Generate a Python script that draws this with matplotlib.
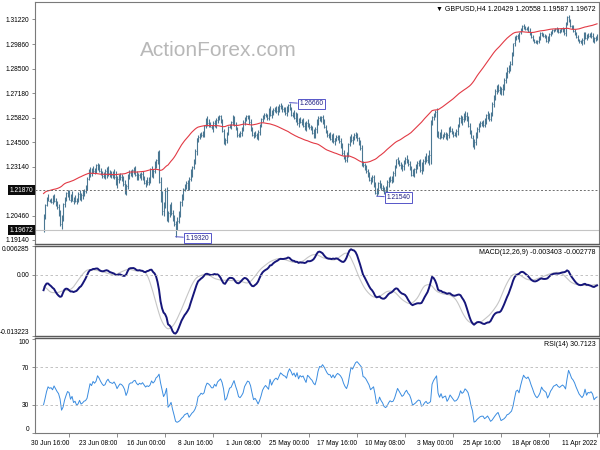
import numpy as np
import matplotlib
matplotlib.use("Agg")
import matplotlib.pyplot as plt

plt.rcParams['font.family'] = ['Liberation Sans', 'DejaVu Sans']

# ---------------- texts ----------------
symbol_header = "\u25BC GBPUSD,H4 1.20429 1.20558 1.19587 1.19672"
macd_header = "MACD(12,26,9) -0.003403 -0.002778"
rsi_header = "RSI(14) 30.7123"
watermark = "ActionForex.com"

# ---------------- H4 bars (price x 10000), one line per trading day ----------------
bar_close = [
13025,13018,13005,13030,13040,13033,
13035,13020,13045,13010,12995,13002,
13010,13025,13040,13060,13075,13085,
13110,13135,13100,13045,13060,13068,
13062,13055,13060,13070,13065,13062,
13050,13040,13020,13005,13025,13030,
13035,13045,13020,13005,12995,13000,
13010,13025,13040,13060,13075,13070,
13075,13085,13070,13050,13020,13030,
13025,12990,12935,12880,12860,12838,
12830,12790,12760,12740,12720,12735,
12750,12730,12700,12660,12610,12578,
12590,12600,12570,12545,12555,12555,
12545,12520,12495,12450,12430,12475,
12500,12540,12575,12590,12600,12575,
12565,12580,12540,12510,12495,12490,
12500,12510,12520,12490,12470,12495,
12490,12480,12500,12475,12495,12615,
12600,12585,12560,12380,12360,12350,
12365,12345,12310,12295,12330,12335,
12320,12300,12285,12270,12305,12330,
12340,12360,12345,12320,12310,12325,
12340,12355,12320,12280,12250,12245,
12250,12230,12195,12180,12185,12200,
12210,12225,12180,12170,12215,12260,
12250,12240,12270,12290,12310,12325,
12330,12420,12445,12470,12495,12490,
12475,12460,12480,12440,12385,12350,
12365,12390,12430,12455,12470,12480,
12470,12455,12480,12465,12490,12490,
12505,12530,12560,12585,12575,12580,
12560,12520,12490,12500,12520,12530,
12545,12555,12520,12540,12565,12560,
12570,12555,12600,12580,12610,12600,
12630,12655,12640,12610,12625,12630,
12640,12650,12635,12620,12630,12625,
12615,12600,12630,12580,12590,12600,
12590,12575,12540,12505,12475,12490,
12500,12490,12520,12560,12585,12590,
12575,12560,12520,12500,12485,12490,
12520,12545,12580,12560,12540,12535,
12500,12460,12445,12510,12560,12590,
12580,12570,12540,12555,12530,12530,
12545,12555,12560,12540,12500,12490,
12495,12480,12470,12400,12350,12312,
12290,12250,12205,12225,12210,12195,
12150,12120,12060,12020,11995,12000,
12030,12060,12100,12060,12030,12180,
12110,12070,12140,12230,12380,12350,
12335,12290,12270,12300,12250,12230,
12240,12225,12250,12275,12260,12270,
12255,12270,12300,12295,12280,12280,
12270,12210,12175,12220,12245,12260,
12265,12250,12230,12260,12280,12270,
12275,12280,12300,12290,12270,12265,
12275,12290,12310,12325,12300,12290,
12300,12280,12290,12250,12200,12180,
12175,12160,12150,12165,12135,12125,
12140,12130,12155,12135,12165,12170,
12145,12110,12040,12000,12060,12095,
12110,12130,12150,12120,12135,12130,
12140,12105,12043,11967.2]

bar_high = [
13040,13030,13025,13048,13055,13045,
13045,13040,13055,13050,13020,13010,
13015,13035,13050,13070,13090,13092,
13125,13148,13140,13105,13075,13078,
13075,13068,13072,13080,13075,13070,
13070,13058,13045,13030,13035,13040,
13045,13055,13050,13030,13010,13008,
13015,13035,13050,13075,13085,13080,
13085,13095,13090,13075,13055,13040,
13035,13030,12995,12945,12895,12870,
12860,12835,12800,12770,12750,12755,
12770,12765,12740,12710,12670,12615,
12610,12620,12605,12580,12570,12568,
12565,12555,12530,12505,12465,12490,
12515,12555,12590,12612,12618,12610,
12590,12600,12585,12550,12520,12505,
12510,12525,12540,12530,12500,12505,
12505,12495,12520,12505,12510,12638,
12625,12610,12595,12570,12405,12380,
12390,12375,12355,12340,12355,12350,
12345,12330,12310,12300,12320,12345,
12355,12380,12370,12350,12330,12340,
12350,12370,12360,12325,12290,12265,
12265,12260,12240,12210,12205,12215,
12225,12240,12230,12200,12230,12270,
12270,12260,12285,12305,12325,12335,
12345,12435,12460,12480,12500,12505,
12500,12485,12495,12485,12445,12395,
12380,12405,12445,12470,12490,12490,
12490,12475,12500,12495,12505,12500,
12515,12545,12575,12600,12595,12590,
12590,12575,12530,12520,12540,12545,
12555,12575,12565,12560,12580,12575,
12585,12580,12610,12615,12625,12615,
12640,12666,12660,12645,12640,12640,
12655,12665,12660,12645,12645,12640,
12635,12625,12645,12635,12605,12610,
12610,12600,12580,12550,12515,12500,
12510,12505,12530,12575,12598,12600,
12600,12585,12570,12530,12510,12500,
12535,12560,12595,12600,12565,12550,
12540,12505,12475,12520,12575,12600,
12600,12590,12580,12570,12565,12545,
12560,12575,12590,12580,12545,12510,
12505,12500,12490,12475,12410,12360,
12320,12300,12260,12240,12235,12220,
12200,12165,12130,12070,12040,12020,
12050,12080,12120,12110,12070,12205,
12200,12120,12180,12260,12406,12400,
12360,12345,12305,12320,12310,12260,
12260,12245,12265,12290,12285,12280,
12280,12290,12320,12315,12305,12295,
12295,12275,12220,12240,12265,12275,
12280,12275,12265,12290,12300,12290,
12290,12295,12320,12315,12300,12285,
12290,12310,12330,12335,12330,12310,
12320,12310,12315,12300,12260,12215,
12195,12185,12170,12185,12175,12145,
12160,12150,12180,12165,12190,12185,
12175,12150,12115,12050,12080,12110,
12125,12145,12165,12160,12145,12140,
12165,12150,12110,12055.8]

bar_low = [
13010,13005,12990,13000,13022,13025,
13022,13010,13015,12985,12980,12990,
12995,13005,13020,13035,13055,13070,
13080,13105,13090,13030,13035,13050,
13050,13045,13048,13055,13058,13055,
13040,13030,13005,12995,13000,13020,
13025,13030,13010,12990,12985,12990,
12995,13005,13020,13035,13055,13062,
13065,13070,13060,13040,13000,13015,
13010,12975,12920,12870,12840,12830,
12800,12775,12735,12710,12707,12715,
12725,12715,12680,12640,12590,12568,
12565,12575,12550,12530,12535,12540,
12530,12505,12470,12435,12411,12425,
12470,12495,12535,12565,12570,12560,
12545,12555,12530,12490,12480,12482,
12480,12495,12505,12470,12460,12465,
12478,12465,12470,12465,12470,12480,
12585,12570,12545,12330,12325,12335,
12340,12330,12290,12276,12285,12320,
12300,12280,12260,12262,12265,12295,
12320,12335,12330,12295,12290,12305,
12320,12330,12310,12265,12230,12225,
12230,12205,12170,12165,12168,12180,
12190,12200,12168,12154,12165,12205,
12230,12220,12235,12260,12280,12295,
12315,12320,12405,12435,12455,12470,
12460,12440,12450,12430,12370,12340,
12340,12355,12380,12420,12445,12460,
12455,12435,12445,12450,12460,12475,
12480,12500,12525,12550,12560,12565,
12545,12500,12470,12475,12495,12515,
12520,12535,12510,12515,12530,12545,
12555,12535,12545,12560,12575,12585,
12595,12625,12615,12595,12600,12615,
12615,12630,12615,12600,12610,12612,
12600,12580,12590,12570,12572,12585,
12575,12560,12530,12490,12460,12465,
12480,12475,12485,12510,12550,12575,
12565,12545,12510,12485,12480,12480,
12480,12515,12540,12545,12520,12525,
12490,12445,12432,12440,12505,12555,
12570,12555,12525,12530,12505,12520,
12530,12535,12540,12525,12480,12480,
12480,12465,12450,12380,12330,12305,
12260,12235,12185,12190,12195,12180,
12135,12100,12040,12005,11970,11932,
11990,12020,12050,12040,12010,12020,
12090,12045,12050,12120,12225,12330,
12310,12280,12255,12260,12225,12215,
12215,12205,12220,12240,12245,12255,
12240,12245,12265,12275,12260,12265,
12250,12195,12160,12165,12210,12235,
12245,12225,12200,12215,12250,12255,
12255,12260,12265,12255,12250,12255,
12255,12270,12285,12295,12280,12275,
12280,12265,12260,12240,12185,12170,
12155,12140,12130,12135,12120,12112,
12120,12110,12125,12120,12135,12150,
12130,12095,12020,11976,11990,12045,
12085,12100,12120,12110,12115,12120,
12125,12100,12030,11958.7]

# time axis (bar index from 11 Apr 2022 00:00)
time_tick_bars = [0, 32, 64, 96, 128, 160, 192, 224, 256, 288, 320, 352]
time_tick_labels = ["11 Apr 2022", "18 Apr 08:00", "25 Apr 16:00", "3 May 00:00",
                    "10 May 08:00", "17 May 16:00", "25 May 00:00", "1 Jun 08:00",
                    "8 Jun 16:00", "16 Jun 00:00", "23 Jun 08:00", "30 Jun 16:00"]

price_ticks = [1.31220, 1.29860, 1.28500, 1.27180, 1.25820, 1.24500, 1.23140, 1.20460, 1.19140]
marked_level = 1.21870
swing_bars = [205, 147, 281]
swing_kind = ['high', 'low', 'low']
macd_ticks = [0.006285, 0.0, -0.013223]
rsi_ticks = [100, 70, 30, 0]
rsi_levels = [70, 30]

# indicator states at the first bar
ma_start = 1.3100
ema12_start = 1.3064
ema26_start = 1.3085
signal_start = -0.0020
prev_close = 1.3035
rsi_gain_start = 0.0008
rsi_loss_start = 0.0012

# ---------------- computations ----------------
close = np.array(bar_close, dtype=float) / 1e4
high = np.array(bar_high, dtype=float) / 1e4
low = np.array(bar_low, dtype=float) / 1e4
n = len(close)
idx = np.arange(n)


def ema(x, period, start):
    k = 2.0 / (period + 1)
    out = np.empty(len(x))
    v = start
    for i, p in enumerate(x):
        v += k * (p - v)
        out[i] = v
    return out


ma55 = ema(close, 55, ma_start)
macd = ema(close, 12, ema12_start) - ema(close, 26, ema26_start)
padded = np.concatenate([np.full(8, signal_start), macd])
signal = np.convolve(padded, np.ones(9) / 9, mode='valid')

diff = np.diff(close, prepend=prev_close)
g, l = rsi_gain_start, rsi_loss_start
rsi = []
for d in diff:
    g = (g * 13 + max(d, 0)) / 14
    l = (l * 13 + max(-d, 0)) / 14
    rsi.append(100 - 100 / (1 + g / l))
rsi = np.array(rsi)

# ---------------- figure ----------------
W, H = 600, 450
fig = plt.figure(figsize=(6, 4.5), dpi=100)
fig.patch.set_facecolor('white')
LFT, RGT = 35 / W, 599 / W


def rect(top, bot):
    return [LFT, 1 - bot / H, RGT - LFT, (bot - top) / H]


ax1 = fig.add_axes(rect(2, 244))
ax2 = fig.add_axes(rect(246, 336), sharex=ax1)
ax3 = fig.add_axes(rect(338, 433), sharex=ax1)

fs = 4.8
for ax in (ax1, ax2, ax3):
    for s in ax.spines.values():
        s.set_color('#7a7a7a')
        s.set_linewidth(0.8)
    ax.tick_params(axis='y', direction='out', length=2.5, width=0.6, pad=1.5,
                   labelsize=fs, color='#7a7a7a', labelcolor='black')
    ax.set_facecolor('white')
for ax, side in ((ax1, 'bottom'), (ax2, 'top'), (ax2, 'bottom'), (ax3, 'top')):
    ax.spines[side].set_linewidth(1.0)
    ax.spines[side].set_color('#5a5a5a')

ax1.set_xlim(374.7, -1.3)

# --- price panel ---
bar_col = '#4b7893'
ax1.vlines(idx, low, high, color=bar_col, lw=0.8)
ax1.hlines(close, idx, idx + 0.5, color=bar_col, lw=0.6)
ax1.plot(idx, ma55, color='#e23a45', lw=0.8)
ax1.axhline(marked_level, color='#6e6e6e', lw=0.7, ls=(0, (2, 2)))
ax1.axhline(close[-1], color='#c4c4c4', lw=0.8)
ax1.set_ylim(1.18921, 1.32167)
ax1.set_yticks(price_ticks)
ax1.set_yticklabels([f"{v:.5f}" for v in price_ticks])
ax1.tick_params(axis='x', bottom=False, labelbottom=False)

for lvl in (marked_level, close[-1]):
    ax1.text(-0.003, lvl, f"{lvl:.5f}", transform=ax1.get_yaxis_transform(),
             ha='right', va='center', fontsize=fs, color='white',
             bbox=dict(boxstyle='square,pad=0.22', fc='#0c0c0c', ec='none'),
             clip_on=False)

for b, kind in zip(swing_bars, swing_kind):
    val = high[b] if kind == 'high' else low[b]
    ax1.annotate(f"{val:.5f}", xy=(b, val), xytext=(7, -1), textcoords='offset points',
                 ha='left', va='center', fontsize=fs, color='#1e1e82',
                 bbox=dict(boxstyle='square,pad=0.25', fc='white', ec='#5555c8', lw=0.7),
                 arrowprops=dict(arrowstyle='-', color='#5555c8', lw=0.7,
                                 shrinkA=0, shrinkB=0))

ax1.text(0.994, 0.988, symbol_header, transform=ax1.transAxes, ha='right', va='top',
         fontsize=5, color='black')
fig.text(218 / W, 1 - 50 / H, watermark, ha='center', va='center', fontsize=15,
         color='#b8b8b8')

# --- MACD panel ---
ax2.plot(idx, signal, color='#c6c6c6', lw=0.8)
ax2.plot(idx, macd, color='#16167a', lw=1.4)
ax2.axhline(0, color='#b8b8b8', lw=0.6, ls=(0, (3, 3)))
ax2.set_ylim(macd_ticks[-1], macd_ticks[0])
ax2.set_yticks(macd_ticks)
ax2.set_yticklabels(['0.006285', '0.00', '-0.013223'])
labs = ax2.get_yticklabels()
labs[0].set_va('top')
labs[2].set_va('bottom')
ax2.tick_params(axis='x', bottom=False, labelbottom=False)
ax2.text(0.994, 0.965, macd_header, transform=ax2.transAxes, ha='right', va='top',
         fontsize=5, color='black')

# --- RSI panel ---
ax3.plot(idx, rsi, color='#3a8ce0', lw=0.7)
for lv in rsi_levels:
    ax3.axhline(lv, color='#b8b8b8', lw=0.6, ls=(0, (3, 3)))
ax3.set_ylim(0, 101.5)
ax3.set_yticks(rsi_ticks)
ax3.set_yticklabels([str(v) for v in rsi_ticks])
labs = ax3.get_yticklabels()
labs[0].set_va('top')
labs[3].set_va('bottom')
ax3.text(0.994, 0.965, rsi_header, transform=ax3.transAxes, ha='right', va='top',
         fontsize=5, color='black')

ax3.set_xticks(time_tick_bars)
ax3.set_xticklabels(time_tick_labels, ha='right')
ax3.tick_params(axis='x', direction='out', length=3, width=0.6, pad=2,
                labelsize=fs, color='#7a7a7a')

fig.savefig('out.png', dpi=100, facecolor='white')
